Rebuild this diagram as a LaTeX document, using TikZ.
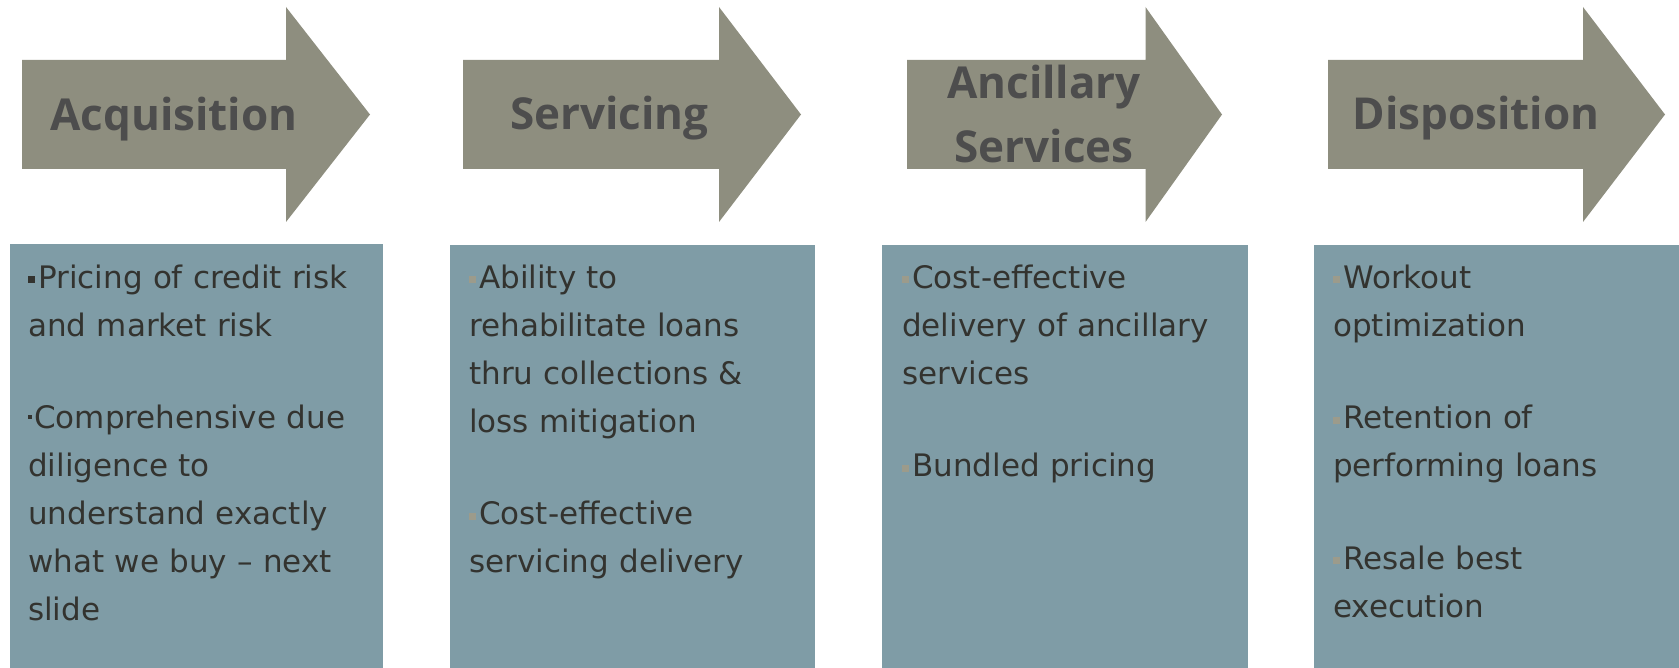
\documentclass[tikz,border=0pt]{standalone}
\usepackage{fontspec}
\setmainfont{DejaVu Sans}
\newfontfamily\headfont{Open Sans}

\definecolor{arrowgrey}{HTML}{8E8E7F}
\definecolor{labelgrey}{HTML}{4D4D4D}
\definecolor{boxblue}{HTML}{7F9CA6}
\definecolor{bodydark}{HTML}{33332F}
\definecolor{bulletgrey}{HTML}{9C9B8B}

\newcommand{\sqbullet}[1]{\textcolor{#1}{\rule[5pt]{7pt}{7pt}}\hspace{3pt}}
\newcommand{\dotbullet}{\rule[10pt]{4pt}{4pt}\hspace{2pt}}

\begin{document}
\begin{tikzpicture}[x=1pt,y=-1pt,
    stagearrow/.style={fill=arrowgrey},
    stagelabel/.style={anchor=south,inner sep=0pt,text depth=0pt,align=center,
        text=labelgrey,font=\headfont\bfseries\fontsize{44}{64}\selectfont},
    infobox/.style={fill=boxblue},
    infotext/.style={anchor=north west,inner sep=0pt,text width=345pt,align=left,
        text=bodydark,font=\fontsize{31}{48}\selectfont}]
    \useasboundingbox (0,0) rectangle (1679,668);

    % Acquisition
    \fill[stagearrow] (22,60) -- (286,60) -- (286,7) -- (370,114.5) -- (286,222) -- (286,169) -- (22,169) -- cycle;
    \node[stagelabel] (acq) at (174,131) {Acquisition};
    \fill[infobox] (10,244) rectangle (383,668);
    \node[infotext] (acqtext) at (28,254.4) {\strut\sqbullet{bodydark}Pricing of credit risk\\
        and market risk\\[44.5pt]
        \dotbullet Comprehensive due\\ diligence to\\ understand exactly\\ what we buy -- next\\ slide};

    % Servicing
    \fill[stagearrow] (463,60) -- (719,60) -- (719,7) -- (801,114.5) -- (719,222) -- (719,169) -- (463,169) -- cycle;
    \node[stagelabel] (serv) at (609.5,130) {Servicing};
    \fill[infobox] (450,245) rectangle (815,668);
    \node[infotext] (servtext) at (469,254.4) {\strut\sqbullet{bulletgrey}Ability to\\
        rehabilitate loans\\ thru collections \&\\ loss mitigation\\[44.5pt]
        \sqbullet{bulletgrey}Cost-effective\\ servicing delivery};

    % Ancillary services
    \fill[stagearrow] (907,60) -- (1145.5,60) -- (1145.5,7) -- (1222,114.5) -- (1145.5,222) -- (1145.5,169) -- (907,169) -- cycle;
    \node[stagelabel] (anc) at (1044,163) {Ancillary\\ Services};
    \fill[infobox] (882,245) rectangle (1247.5,668);
    \node[infotext] (anctext) at (902,254.4) {\strut\sqbullet{bulletgrey}Cost-effective\\
        delivery of ancillary\\ services\\[44.5pt]
        \sqbullet{bulletgrey}Bundled pricing};

    % Disposition
    \fill[stagearrow] (1328,60) -- (1583,60) -- (1583,7) -- (1665,114.5) -- (1583,222) -- (1583,169) -- (1328,169) -- cycle;
    \node[stagelabel] (disp) at (1476,130) {Disposition};
    \fill[infobox] (1314,245) rectangle (1679,668);
    \node[infotext] (disptext) at (1333,254.4) {\strut\sqbullet{bulletgrey}Workout\\
        optimization\\[44.5pt]
        \sqbullet{bulletgrey}Retention of\\ performing loans\\[44.5pt]
        \sqbullet{bulletgrey}Resale best\\ execution};
\end{tikzpicture}
\end{document}
